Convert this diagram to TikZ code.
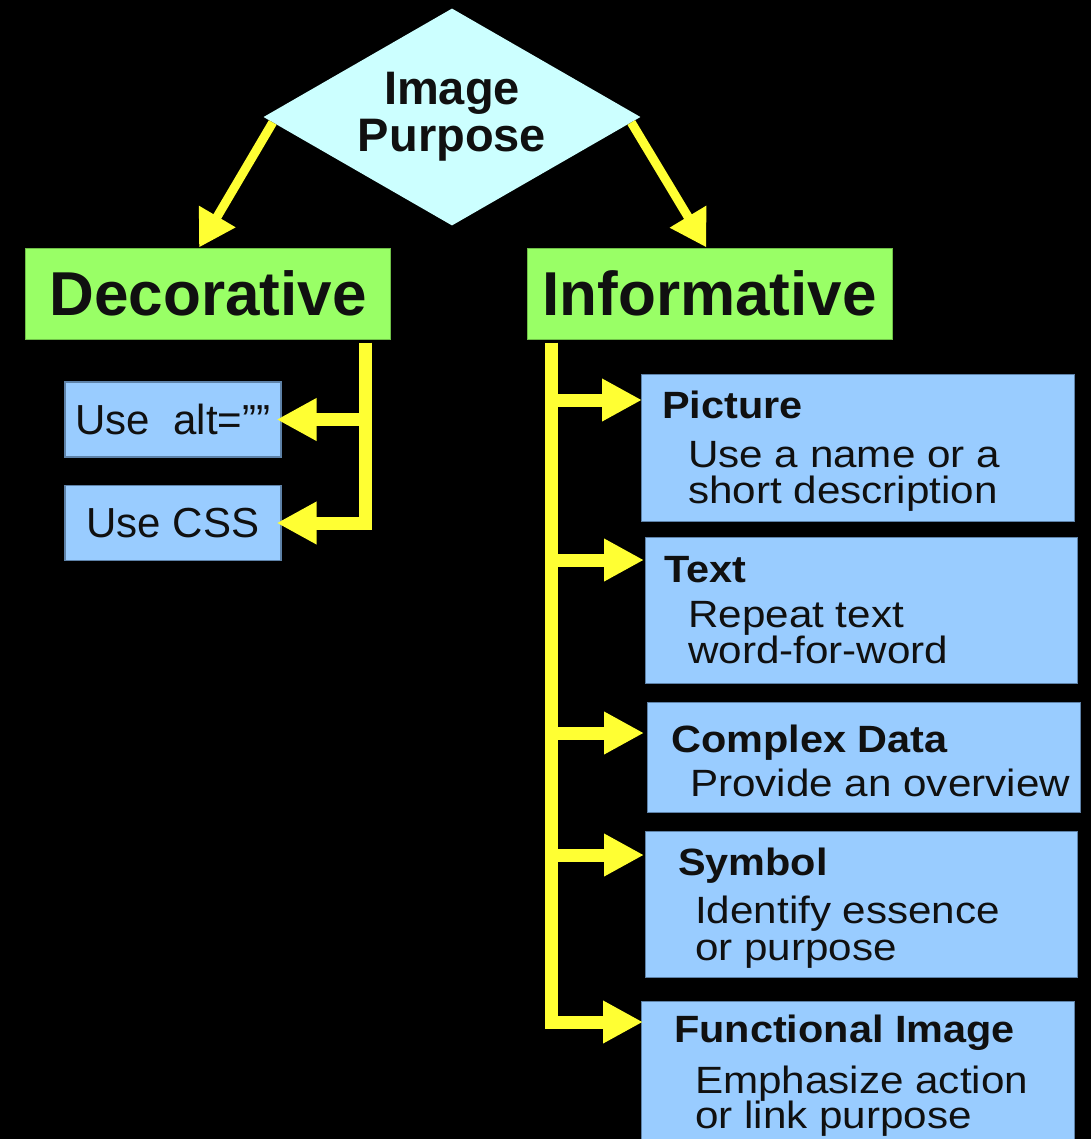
\documentclass[tikz,border=0pt]{standalone}
\usepackage{fontspec}
\setmainfont{Liberation Sans}
\newfontfamily\bodyfont[FakeStretch=1.11]{Liberation Sans}
\newfontfamily\titlefont[FakeStretch=1.09]{Liberation Sans}
\usetikzlibrary{shapes.geometric,arrows.meta,calc}
\definecolor{ylw}{HTML}{FFFF33}
\definecolor{grn}{HTML}{99FF66}
\definecolor{grnedge}{HTML}{6FC048}
\definecolor{blu}{HTML}{99CCFF}
\definecolor{bluedge}{HTML}{5E82A8}
\definecolor{cyn}{HTML}{CCFFFF}
\definecolor{ink}{HTML}{101010}
\begin{document}
\begin{tikzpicture}[x=1bp,y=-1bp,
  catbox/.style={rectangle, fill=grn, draw=grnedge, line width=1bp, minimum width=364bp, minimum height=91bp, inner sep=0pt, text=ink, font=\bfseries\fontsize{62bp}{62bp}\selectfont},
  usebox/.style={rectangle, fill=blu, draw=bluedge, line width=1.2bp, minimum width=216bp, minimum height=75bp, inner sep=0pt, text=ink, font=\fontsize{42bp}{42bp}\selectfont},
  infobox/.style={rectangle, fill=blu, draw=bluedge, line width=1.2bp, anchor=north west, inner sep=0pt, minimum width=433bp},
  ttl/.style={anchor=base west, inner sep=0pt, text=ink, font=\titlefont\bfseries\fontsize{38bp}{38bp}\selectfont},
  body/.style={anchor=base west, inner sep=0pt, text=ink, font=\bodyfont\fontsize{38bp}{38bp}\selectfont},
  toparrow/.style={draw=ylw, line width=9bp, -{Triangle[width=40bp,length=36bp]}},
  branch/.style={draw=ylw, line width=13bp, -{Triangle[width=40bp,length=40bp]}}
]
\fill[black] (0,0) rectangle (1091,1139);
\useasboundingbox (0,0) rectangle (1091,1139);
\clip (0,0) rectangle (1091,1139);

% top decision
\node[diamond, aspect=1.74, fill=cyn, minimum width=377bp, minimum height=217bp, inner sep=0pt, align=center, text=ink,
      font=\bfseries\fontsize{47bp}{47bp}\selectfont] (img) at (452,117) {Image\\Purpose};

% categories
\node[catbox] (deco) at (208,293.5) {Decorative};
\node[catbox, minimum width=365bp] (info) at (709.5,293.5) {Informative};

% decorative options
\node[usebox] (alt) at (173,419.5) {Use\ \ alt=””};
\node[usebox] (css) at (173,523) {Use CSS};

% informative options
\node[infobox, minimum height=147bp] (pic) at (641,374) {};
\node[infobox, minimum width=432bp, minimum height=146bp] (txt) at (645,537) {};
\node[infobox, minimum height=110bp] (cpx) at (647,702) {};
\node[infobox, minimum width=432bp, minimum height=146bp] (sym) at (645,831) {};
\node[infobox, minimum height=170bp] (fun) at (641,1001) {};

\node[ttl] (picT) at (662,418) {Picture};
\node[body] (picA) at (688,467) {Use a name or a};
\node[body] (picB) at (688,503) {short description};

\node[ttl] (txtT) at (664,582) {Text};
\node[body] (txtA) at (688,627) {Repeat text};
\node[body] (txtB) at (688,663) {word-for-word};

\node[ttl] (cpxT) at (671,752) {Complex Data};
\node[body] (cpxA) at (690,796) {Provide an overview};

\node[ttl] (symT) at (678,875) {Symbol};
\node[body] (symA) at (695,923) {Identify essence};
\node[body] (symB) at (695,960) {or purpose};

\node[ttl] (funT) at (674,1042) {Functional Image};
\node[body] (funA) at (695,1093) {Emphasize action};
\node[body] (funB) at (695,1128) {or link purpose};

% top arrows
\draw[toparrow] ($(img.west)!0.05!(img.south)$) -- ($(deco.north)+(-9,0)$);
\draw[toparrow] ($(img.east)!0.05!(img.south)$) -- ($(info.north)+(-3,0)$);

% decorative trunk
\coordinate (dtop) at ($(deco.south east)+(-25,3)$);
\draw[branch, shorten >=-5bp] (dtop) |- (css.east);
\draw[branch, shorten >=-5bp] (dtop |- alt.east) -- (alt.east);

% informative trunk
\coordinate (itop) at ($(info.south west)+(25,3)$);
\coordinate (pB) at ($(pic.north west)+(1,26)$);
\coordinate (tB) at ($(txt.north west)+(-1,23)$);
\coordinate (cB) at ($(cpx.north west)+(-3,31)$);
\coordinate (sB) at ($(sym.north west)+(-1,24)$);
\coordinate (fB) at ($(fun.north west)+(2,21)$);
\draw[branch] (itop) |- (fB);
\draw[branch] (itop |- pB) -- (pB);
\draw[branch] (itop |- tB) -- (tB);
\draw[branch] (itop |- cB) -- (cB);
\draw[branch] (itop |- sB) -- (sB);
\end{tikzpicture}
\end{document}
